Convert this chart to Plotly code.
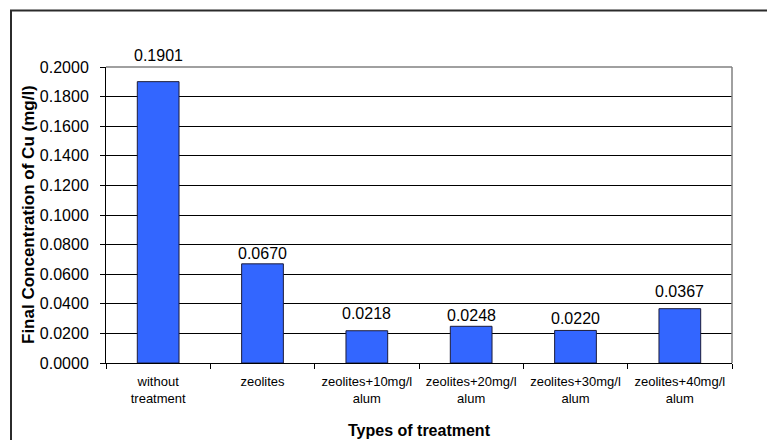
import plotly.graph_objects as go

# Final copper concentration after each treatment
categories = [
    "without<br>treatment",
    "zeolites",
    "zeolites+10mg/l<br>alum",
    "zeolites+20mg/l<br>alum",
    "zeolites+30mg/l<br>alum",
    "zeolites+40mg/l<br>alum",
]
cu_final = [0.1901, 0.0670, 0.0218, 0.0248, 0.0220, 0.0367]
y_ticks = [0.00, 0.02, 0.04, 0.06, 0.08, 0.10, 0.12, 0.14, 0.16, 0.18, 0.20]

# vertical lift (px) of each value label above its bar top
label_lift = [26, 10, 17, 11, 12, 17]

FONT = "Liberation Sans, Arial, sans-serif"
W, H = 767, 440
M_L, M_R, M_T, M_B = 106, 35, 67, 77
PW, PH = W - M_L - M_R, H - M_T - M_B

fig = go.Figure()
fig.add_trace(go.Bar(
    x=categories,
    y=cu_final,
    marker=dict(color="#3366FF", line=dict(color="#1c1c3a", width=1)),
    hoverinfo="x+y",
))

annotations = []
for cat, val, lift in zip(categories, cu_final, label_lift):
    annotations.append(dict(
        x=cat, y=val, xref="x", yref="y",
        text=f"{val:.4f}", showarrow=False,
        yanchor="middle", yshift=lift,
        font=dict(family=FONT, size=16, color="black"),
    ))

# axis titles
annotations.append(dict(
    x=0.5, y=0, xref="paper", yref="paper",
    text="<b>Types of treatment</b>", showarrow=False,
    yanchor="middle", yshift=-(430 - (H - M_B)),
    font=dict(family=FONT, size=16, color="black"),
))
annotations.append(dict(
    x=0, y=0.5, xref="paper", yref="paper",
    text="<b>Final Concentration of Cu (mg/l)</b>", showarrow=False,
    textangle=-90, xanchor="center", xshift=-(M_L - 28),
    font=dict(family=FONT, size=17, color="black"),
))

def px_x(p):
    return (p - M_L) / PW

def px_y(p):
    return (H - M_B - p) / PH

shapes = [
    # outer chart frame
    dict(type="rect", xref="paper", yref="paper",
         x0=px_x(11), x1=px_x(775), y0=px_y(448), y1=px_y(10.5),
         line=dict(color="#2b2b2b", width=2), layer="below"),
    # plot-area top and right border
    dict(type="line", xref="paper", yref="paper", x0=0, x1=1, y0=1, y1=1,
         line=dict(color="#808080", width=1.5), layer="above"),
    dict(type="line", xref="paper", yref="paper", x0=1, x1=1, y0=0, y1=1,
         line=dict(color="#808080", width=1.5), layer="above"),
]

fig.update_layout(
    width=W, height=H,
    margin=dict(l=M_L, r=M_R, t=M_T, b=M_B, pad=0),
    paper_bgcolor="white", plot_bgcolor="white",
    bargap=0.6,
    showlegend=False,
    font=dict(family=FONT, color="black"),
    annotations=annotations,
    shapes=shapes,
    xaxis=dict(
        type="category",
        showline=True, linecolor="black", linewidth=1,
        ticks="outside", tickson="boundaries", ticklen=5,
        tickcolor="black", tickwidth=1,
        tickfont=dict(family=FONT, size=13, color="black"),
        showgrid=False, zeroline=False,
        ticklabelstandoff=6,
    ),
    yaxis=dict(
        range=[0, 0.2],
        tickvals=y_ticks, tickformat=".4f",
        showline=True, linecolor="black", linewidth=1,
        ticks="outside", ticklen=5, tickcolor="black", tickwidth=1,
        tickfont=dict(family=FONT, size=16, color="black"),
        showgrid=True, gridcolor="black", gridwidth=1,
        zeroline=False,
        ticklabelstandoff=8,
    ),
)

fig.write_html("out.html")
